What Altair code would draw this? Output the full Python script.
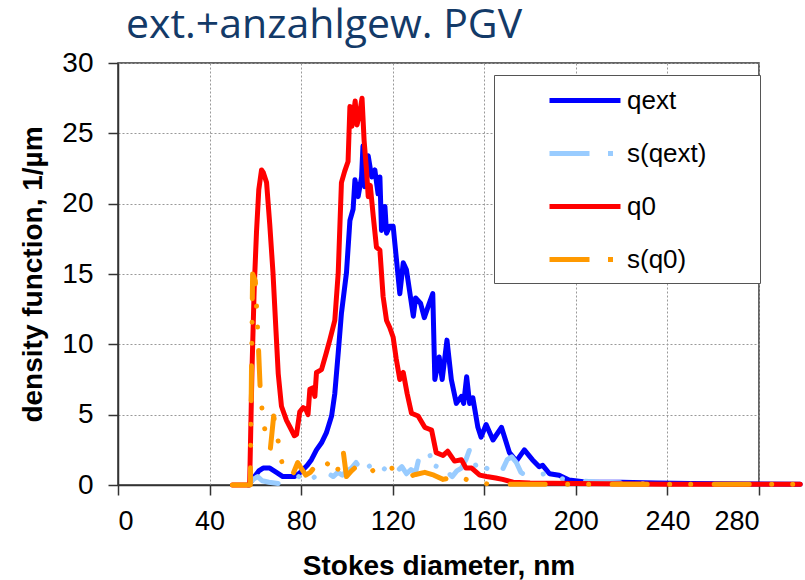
import altair as alt
import pandas as pd

# ---- data ----
series_names = ["qext", "s(qext)", "q0", "s(q0)"]
series_colors = ["#0000FF", "#99CCFF", "#FF0000", "#FF9900"]

qext_d = [57, 59.7, 61.5, 63.4, 66.3, 69.2, 72, 77, 79, 80.9, 82.7, 84.5, 86.7, 88.9, 91, 93.3, 94.7, 96.2,
          97.6, 99.8, 101.3, 102.7, 103.5, 104.9, 106.4, 107, 107.8, 109.3, 110.8, 112.2, 113.6, 114.4,
          115.1, 116.6, 117.3, 118.7, 120.2, 123.1, 124.6, 126, 129, 130, 132.2, 133.8, 135.5, 137.5,
          138.4, 140.3, 141.6, 143.7, 145.6, 147.8, 150, 151, 152.3, 153.6, 155, 157.2, 158.6, 160.8,
          163.8, 167.5, 171, 174, 177.5, 181, 184, 185.5, 188.5, 192.7, 197, 205, 220, 235, 250, 298]
qext_v = [0, 0.6, 1.0, 1.2, 1.2, 0.9, 0.6, 0.6, 0.8, 1.1, 1.4, 1.8, 2.5, 3.0, 3.7, 4.9, 6.5, 9.4,
          12.2, 15.1, 18.8, 19.6, 21.7, 20.5, 21.9, 24.1, 21.2, 23.4, 21.9, 22.4, 20.7, 21.9,
          18.1, 19.8, 17.9, 18.4, 18.4, 13.6, 15.8, 15.3, 12.0, 13.3, 12.9, 11.9, 12.7, 13.6,
          7.5, 9.1, 7.5, 10.3, 7.5, 5.8, 6.3, 5.8, 7.7, 5.8, 6.2, 4.1, 3.4, 4.3,
          3.2, 4.1, 2.3, 1.7, 2.5, 1.8, 1.3, 1.4, 0.8, 0.7, 0.35, 0.2, 0.2, 0.15, 0.1, 0.05]

sqext_d = [57, 59, 61, 63, 66, 70, 74, 78, 80, 82, 84, 86, 88, 90, 92, 94, 96, 98, 100, 102, 104, 106,
           108, 110, 112, 114, 116, 118, 120, 122, 124, 126, 128, 130, 132, 134, 136, 138, 140, 142,
           144, 146, 148, 150, 152, 154, 156, 158, 160, 162, 164, 166, 168, 170, 172, 174, 176, 178,
           180, 183, 186, 189, 192, 196, 200, 210, 220, 232]
sqext_v = [0.0, 0.4, 0.6, 0.3, 0.2, 0.1, 0.2, 0.4, 0.8, 0.4, 0.3, 0.6, 0.9, 0.5, 0.8, 0.6, 0.9, 0.7, 1.0,
           1.2, 1.6, 1.1, 1.7, 1.3, 1.5, 1.0, 1.2, 0.9, 1.4, 1.0, 1.3, 0.8, 1.1, 0.9, 2.3, 2.5, 2.3, 1.0,
           1.7, 1.2, 0.9, 0.6, 1.0, 1.2, 1.8, 2.7, 1.5, 0.8, 1.3, 1.1, 0.9, 0.6, 1.1, 1.8, 2.0, 1.6, 0.9,
           0.7, 0.8, 0.6, 0.8, 0.5, 0.6, 0.3, 0.3, 0.2, 0.15, 0.1]

q0_d = [50, 57.5, 58.5, 59.5, 60.5, 61.5, 62.7, 63.5, 64.9, 66.3, 67.7, 69, 70, 71.4, 73.6, 75.5, 77, 78,
        79.4, 80.9, 82, 83, 83.8, 85, 86, 86.7, 88.9, 91, 92.5, 94.7, 96.2, 97.6, 99, 100.5, 101.3,
        102.2, 103.6, 104.4, 105.4, 106.6, 107.5, 108.5, 109.3, 110.2, 111.5, 112.9, 114.4, 115.8,
        117.3, 118.7, 120.2, 121.5, 123.1, 124.6, 126.3, 128.2, 131.1, 134, 135.5, 137, 139, 142, 144,
        147, 150, 152, 154.5, 158, 161, 165, 168, 172.6, 180, 200, 240, 298]
q0_v = [0, 0, 8, 14, 18, 21, 22.4, 22.2, 21.5, 18.5, 15.1, 11, 7.9, 5.6, 4.6, 4.0, 3.5, 3.6,
        5.2, 5.5, 5.4, 5.0, 6.8, 6.9, 6.3, 8.0, 8.2, 9.4, 10.3, 11.7, 15.1, 21.5, 22.3, 23, 26.9,
        25.5, 27.3, 25.6, 26.3, 27.5, 24.5, 22.5, 20.5, 21.3, 19.1, 16.9, 16.7, 13.4,
        11.7, 11.2, 10.5, 9, 7.5, 8.0, 6.5, 5.1, 4.9, 4.1, 4.0, 3.9, 2.3, 2.1, 2.4,
        1.7, 1.8, 1.2, 1.2, 0.7, 0.6, 0.5, 0.4, 0.2, 0.15, 0.1, 0.05, 0.05]

sq0_d = [50, 57.8, 58.3, 58.8, 60, 61.3, 62.2, 63.5, 64.9, 66.5, 68, 69.5, 70.5, 72, 74, 76, 78.5, 80,
         82, 84, 86, 88, 90, 92.5, 94, 96, 98.3, 99.8, 102, 104, 106, 108.6, 111, 113, 115, 117.3,
         120, 122, 124.6, 127, 130, 134, 138, 142, 145, 148, 150, 152, 156, 160, 170, 298]
sq0_v = [0, 0, 8, 15, 14.5, 10, 6.5, 4.5, 3.3, 2.5, 4.9, 3.5, 2.7, 1.2, 0.8, 0.6, 1.6, 1.2,
         0.7, 0.9, 1.3, 0.9, 1.2, 1.7, 0.9, 1.1, 2.5, 0.6, 1.0, 1.3, 0.9, 1.1, 1.0, 1.2, 1.0, 1.1,
         1.2, 0.9, 0.8, 0.6, 0.75, 0.9, 0.7, 0.4, 0.5, 0.3, 0.15, 0.4, 0.2, 0.1, 0.05, 0.05]

x_ticks = [0, 40, 80, 120, 160, 200, 240, 280]
y_ticks = [0, 5, 10, 15, 20, 25, 30]

rows = []
for name, ds, vs in [("qext", qext_d, qext_v), ("s(qext)", sqext_d, sqext_v),
                     ("q0", q0_d, q0_v), ("s(q0)", sq0_d, sq0_v)]:
    for i, (d, v) in enumerate(zip(ds, vs)):
        rows.append({"series": name, "d": d, "v": v, "i": i})
df = pd.DataFrame(rows)
legend_df = pd.DataFrame({"series": series_names, "d": [None] * 4, "v": [None] * 4, "i": [0] * 4})

FONT = "Liberation Sans"
LINE_DASH = [35, 22.5, 0.01, 21, 0.01, 23.5]
LEGEND_DASH = [40, 18.5, 5, 40]
# trailing spaces kept by a zero-width character so the legend box gets its right margin
LABEL_TAIL = " " * 6 + "\u200b"

legend = alt.Legend(
    title=None, orient="none", legendX=376, legendY=12,
    symbolType="M-2.731,0H2.731", symbolSize=676, symbolStrokeWidth=5,
    symbolOffset=65.5, labelOffset=26.5, padding=10, rowPadding=24,
    labelFont=FONT, labelFontSize=26, labelColor="black", labelLimit=300,
    labelExpr="datum.label + '" + LABEL_TAIL + "'",
    fillColor="white", strokeColor="#555555",
)
color = alt.Color("series:N", scale=alt.Scale(domain=series_names, range=series_colors), legend=legend)
dash = alt.StrokeDash("series:N",
                      scale=alt.Scale(domain=series_names,
                                      range=[[1, 0], LEGEND_DASH, [1, 0], LEGEND_DASH]),
                      legend=legend)

x_enc = alt.X("d:Q", scale=alt.Scale(domain=[0, 280], nice=False, zero=False),
              axis=alt.Axis(values=x_ticks, title="Stokes diameter, nm"))
y_enc = alt.Y("v:Q", scale=alt.Scale(domain=[0, 30], nice=False),
              axis=alt.Axis(values=y_ticks, title="density function, 1/µm"))

layers = []
for name in series_names:
    dashed = name.startswith("s(")
    props = dict(strokeWidth=5, strokeJoin="round", strokeCap="round", clip=False)
    if dashed:
        props["strokeDash"] = LINE_DASH
    layers.append(
        alt.Chart(df).transform_filter(alt.datum.series == name)
        .mark_line(**props)
        .encode(x=x_enc, y=y_enc, color=color, order="i:Q")
    )
# carrier layer for the combined legend (no visible marks)
layers.append(
    alt.Chart(legend_df).mark_line(strokeWidth=5).encode(x=x_enc, y=y_enc, color=color, strokeDash=dash)
)

chart = alt.layer(*layers).properties(
    width=641, height=422,
    autosize=alt.AutoSizeParams(type="none"),
    padding={"left": 118, "top": 63, "right": 46, "bottom": 95},
    title=alt.TitleParams(
        "ext.+anzahlgew. PGV", anchor="start", frame="group", font="Open Sans",
        fontSize=41, fontWeight="normal", color="#133A68", baseline="alphabetic",
        offset=7, dx=8, dy=37),
).configure_view(
    stroke="#333333", strokeWidth=1.5
).configure_axis(
    labelFont=FONT, titleFont=FONT, labelColor="black", titleColor="black",
    titleFontWeight="bold", titleFontSize=28,
    domainColor="#333333", domainWidth=1.5, tickColor="#333333", tickSize=10, tickWidth=1.5,
    grid=True, gridColor="#999999", gridDash=[2, 2], gridWidth=1,
).configure_axisX(
    labelFontSize=27, labelPadding=13, titlePadding=18,
).configure_axisY(
    labelFontSize=28, labelPadding=15, titlePadding=14,
)

chart.save("out.html", embed_options={"renderer": "svg", "actions": False})
